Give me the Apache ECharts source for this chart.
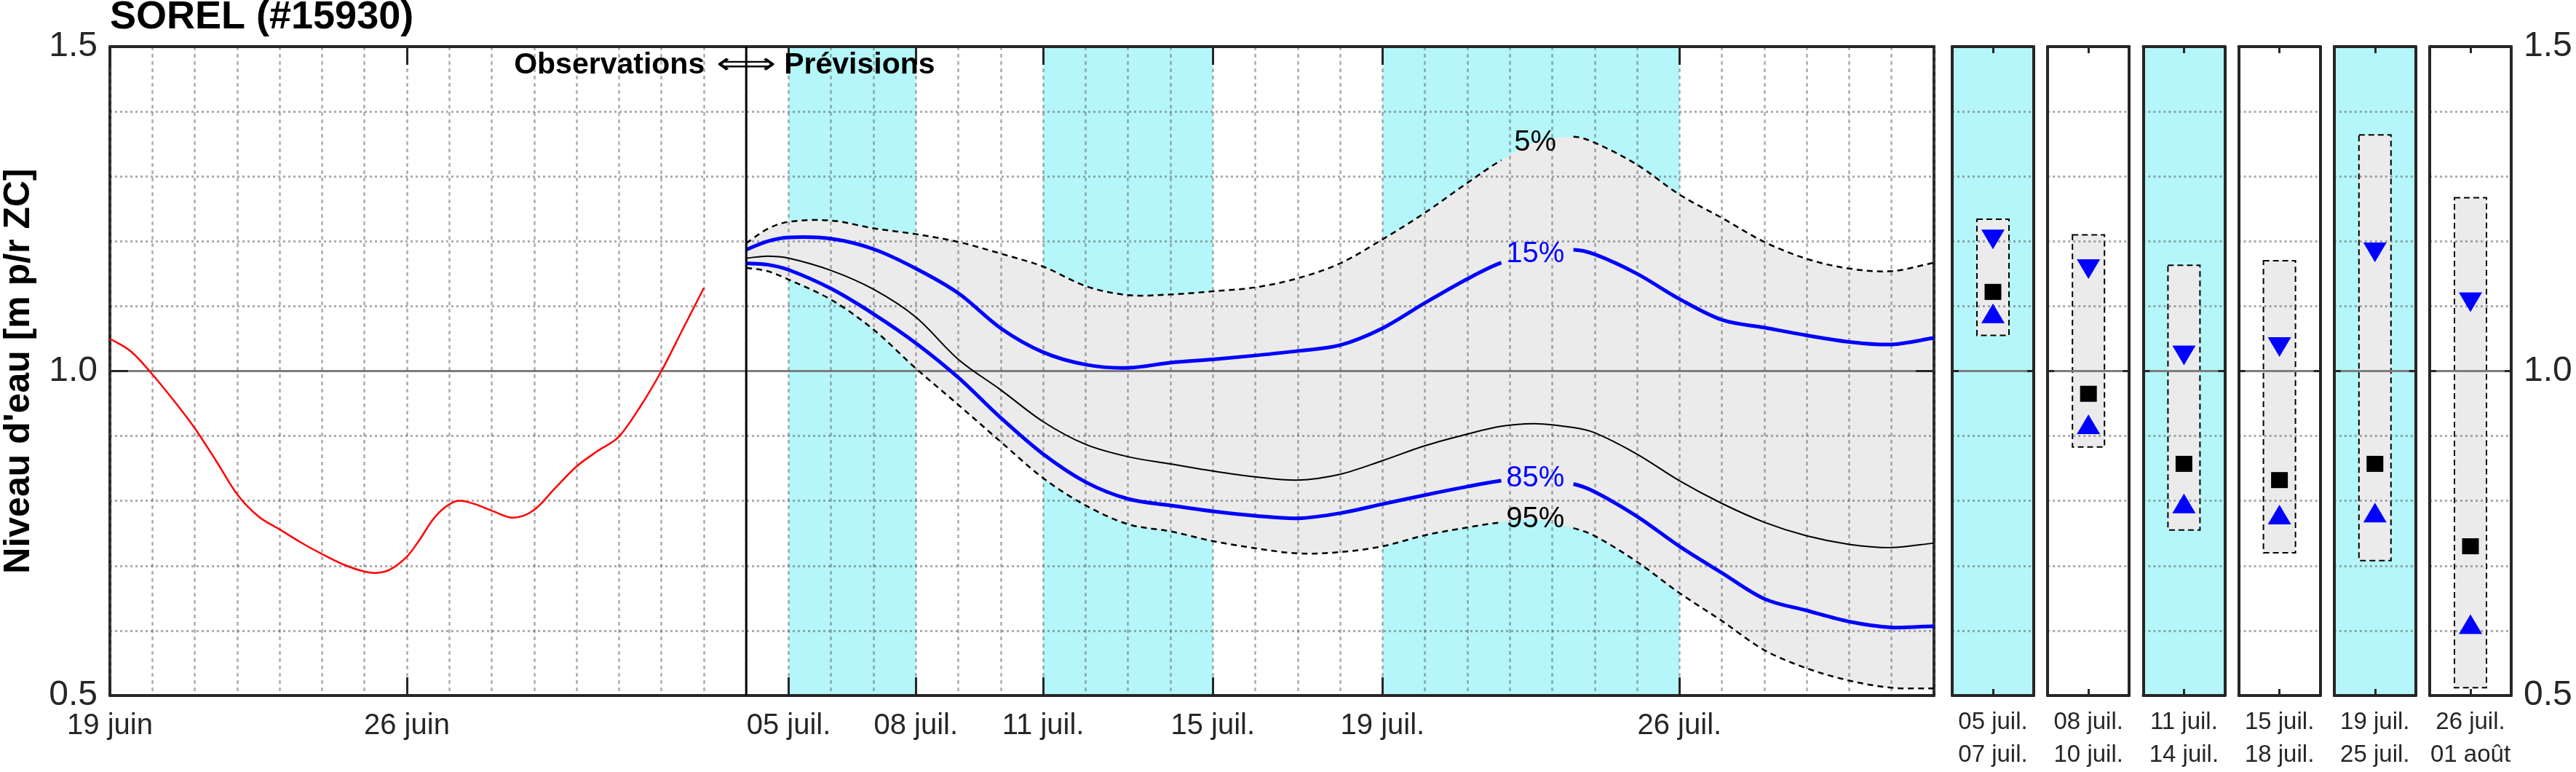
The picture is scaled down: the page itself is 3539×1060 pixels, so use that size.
<!DOCTYPE html>
<html><head><meta charset="utf-8">
<script src="https://cdn.jsdelivr.net/npm/echarts@6/dist/echarts.min.js"></script>
<style>html,body{margin:0;padding:0;background:#fff}#c{width:3539px;height:1060px}</style>
</head><body><div id="c"></div>
<script>
// ---------------- data ----------------
const chartTitle = 'SOREL (#15930)';
const yName = "Niveau d'eau [m p/r ZC]";
const yMin = 0.5, yMax = 1.5, yStep = 0.5;
const xDays = 43;                         // day 0 = 19 juin, day 43 = 01 août
const tickDays = [0, 7, 16, 19, 22, 26, 30, 37];
const tickLabels = ['19 juin', '26 juin', '05 juil.', '08 juil.', '11 juil.', '15 juil.', '19 juil.', '26 juil.'];
const forecastStartDay = 15;              // 04 juil.
const shadeStart = [16, 22, 30];
const shadeEnd = [19, 26, 37];

const obsDays = [0, 0.5, 1, 1.5, 2, 2.5, 3, 3.5, 4, 4.5, 5, 5.5, 6, 6.3, 6.6, 7, 7.3, 7.6, 7.9, 8.2, 8.6, 9, 9.5, 10, 10.5, 11, 11.5, 12, 12.5, 13, 13.5, 14];
const obsLevel = [1.05, 1.03, 0.995, 0.955, 0.912, 0.862, 0.81, 0.776, 0.756, 0.736, 0.718, 0.702, 0.691, 0.689, 0.694, 0.714, 0.74, 0.77, 0.79, 0.80, 0.795, 0.785, 0.774, 0.786, 0.82, 0.853, 0.877, 0.899, 0.945, 1.0, 1.064, 1.128];

const fcDays = [15, 15.5, 16, 17, 18, 19, 20, 21, 22, 23, 24, 25, 26, 27, 28, 29, 30, 31, 32, 32.8, 33.6, 34.5, 35, 36, 37, 38, 39, 40, 41, 42, 43];
const p5 = [1.197, 1.219, 1.230, 1.232, 1.220, 1.211, 1.199, 1.181, 1.161, 1.131, 1.117, 1.118, 1.123, 1.129, 1.143, 1.166, 1.203, 1.244, 1.290, 1.325, 1.352, 1.361, 1.352, 1.318, 1.272, 1.236, 1.199, 1.173, 1.158, 1.154, 1.167];
const p15 = [1.187, 1.200, 1.206, 1.204, 1.188, 1.158, 1.120, 1.066, 1.029, 1.010, 1.005, 1.013, 1.018, 1.024, 1.031, 1.040, 1.066, 1.105, 1.142, 1.167, 1.180, 1.187, 1.180, 1.150, 1.111, 1.079, 1.067, 1.055, 1.045, 1.041, 1.051];
const p50 = [1.174, 1.177, 1.174, 1.155, 1.126, 1.083, 1.018, 0.971, 0.922, 0.887, 0.868, 0.857, 0.846, 0.837, 0.832, 0.841, 0.862, 0.885, 0.903, 0.915, 0.919, 0.913, 0.905, 0.872, 0.831, 0.796, 0.767, 0.746, 0.733, 0.728, 0.735];
const p85 = [1.166, 1.164, 1.156, 1.127, 1.088, 1.043, 0.990, 0.928, 0.872, 0.829, 0.803, 0.793, 0.784, 0.777, 0.773, 0.781, 0.795, 0.809, 0.822, 0.831, 0.835, 0.826, 0.814, 0.776, 0.730, 0.689, 0.649, 0.631, 0.614, 0.605, 0.607];
const p95 = [1.159, 1.154, 1.141, 1.110, 1.064, 1.004, 0.948, 0.891, 0.835, 0.793, 0.764, 0.753, 0.738, 0.727, 0.719, 0.721, 0.730, 0.747, 0.759, 0.767, 0.772, 0.758, 0.746, 0.706, 0.658, 0.615, 0.570, 0.542, 0.523, 0.512, 0.511];
const labelIndex = 20;                    // where the percentile labels sit on the curves

const panelLabels = ['05 juil.\n07 juil.', '08 juil.\n10 juil.', '11 juil.\n14 juil.', '15 juil.\n18 juil.', '19 juil.\n25 juil.', '26 juil.\n01 août'];
const panelShaded = [true, false, true, false, true, false];
const panelP5 = [1.234, 1.210, 1.163, 1.170, 1.364, 1.267];
const panelP15 = [1.203, 1.157, 1.024, 1.037, 1.183, 1.106];
const panelP50 = [1.122, 0.965, 0.857, 0.832, 0.857, 0.730];
const panelP85 = [1.089, 0.918, 0.796, 0.779, 0.782, 0.610];
const panelP95 = [1.055, 0.883, 0.755, 0.720, 0.708, 0.512];

// ---------------- style ----------------
const FONT = "'Liberation Sans', Arial, Helvetica, sans-serif";
const AX = '#262626';
const GRIDC = 'rgba(90,90,90,0.5)';
const CYAN = '#b4f6f9';
const BAND = '#ebebeb';
const BLUE = '#0000ff';

function f(v) { return v.toFixed(2); }
function hermite(pts, skip, firstCmd) {
  const n = pts.length, s = [];
  for (let i = 0; i < n; i++) {
    const a = pts[Math.max(0, i - 1)], b = pts[Math.min(n - 1, i + 1)];
    s.push((b[1] - a[1]) / (b[0] - a[0]));
  }
  let d = '', pen = false;
  for (let i = 0; i < n - 1; i++) {
    if (skip && skip(i)) { pen = false; continue; }
    const p = pts[i], q = pts[i + 1], h = (q[0] - p[0]) / 3;
    if (!pen) { d += ((d === '' && firstCmd) ? firstCmd : 'M') + f(p[0]) + ' ' + f(p[1]) + ' '; pen = true; }
    d += 'C' + f(p[0] + h) + ' ' + f(p[1] + s[i] * h) + ' ' + f(q[0] - h) + ' ' + f(q[1] - s[i + 1] * h) + ' ' + f(q[0]) + ' ' + f(q[1]) + ' ';
  }
  return d;
}
const gapSkip = i => (i === labelIndex - 1 || i === labelIndex);

function curveSeries(xs, ys, stroke, width, dash, skip, label) {
  return {
    type: 'custom', coordinateSystem: 'cartesian2d', xAxisIndex: 0, yAxisIndex: 0,
    z: 5, silent: true, clip: false, data: [[xs[0], ys[0]]],
    renderItem: (params, api) => {
      const pts = xs.map((x, i) => api.coord([x, ys[i]]));
      const children = [{
        type: 'path', shape: { pathData: hermite(pts, skip) },
        style: { fill: 'none', stroke: stroke, lineWidth: width, lineDash: dash || null }
      }];
      if (label) {
        const c = api.coord([xs[labelIndex], ys[labelIndex]]);
        children.push({ type: 'text', x: c[0], y: c[1],
          style: { text: label, fill: stroke, fontSize: 40, fontFamily: FONT, align: 'center', verticalAlign: 'middle' } });
      }
      return { type: 'group', children };
    }
  };
}

// ---------------- layout ----------------
const grids = [{ left: 151, top: 64, width: 2506, height: 891, show: false, containLabel: false, outerBoundsMode: 'none' }];
for (let p = 0; p < 6; p++) {
  grids.push({ left: 2682 + p * 131.2, top: 64, width: 112, height: 891, show: true,
    backgroundColor: panelShaded[p] ? CYAN : '#ffffff', borderWidth: 0, containLabel: false, outerBoundsMode: 'none' });
}

const lineAx = { show: true, onZero: false, lineStyle: { color: AX, width: 4 } };
const xAxes = [
  { gridIndex: 0, type: 'value', min: 0, max: xDays, interval: 1, position: 'bottom', z: 3,
    axisLine: lineAx,
    axisTick: { show: true, inside: true, length: 25, customValues: tickDays, lineStyle: { color: AX, width: 3 } },
    axisLabel: { show: true, customValues: tickDays, margin: 22, fontSize: 40, color: AX, fontFamily: FONT,
      formatter: v => { const i = tickDays.indexOf(v); return i < 0 ? '' : tickLabels[i]; } },
    splitLine: { show: false } },
  { gridIndex: 0, type: 'value', min: 0, max: xDays, interval: 1, position: 'top', z: 3,
    axisLine: lineAx,
    axisTick: { show: true, inside: true, length: 25, customValues: tickDays, lineStyle: { color: AX, width: 3 } },
    axisLabel: { show: false }, splitLine: { show: false } }
];
const yAxes = [
  { gridIndex: 0, type: 'value', min: yMin, max: yMax, interval: yStep, position: 'left', z: 2,
    name: yName, nameLocation: 'middle', nameGap: 100, nameRotate: 90,
    nameTextStyle: { fontSize: 50, fontWeight: 'bold', color: '#000', fontFamily: FONT },
    axisLine: lineAx,
    axisTick: { show: true, inside: true, length: 25, lineStyle: { color: AX, width: 3 } },
    axisLabel: { show: true, margin: 17, fontSize: 48, color: AX, fontFamily: FONT, formatter: v => v.toFixed(1) },
    splitLine: { show: true, lineStyle: { color: '#7d7d7d', width: 3 } },
    minorTick: { show: false, splitNumber: 5 },
    minorSplitLine: { show: true, lineStyle: { color: GRIDC, width: 3, type: [3, 4] } } },
  { gridIndex: 0, type: 'value', min: yMin, max: yMax, interval: yStep, position: 'right', z: 2,
    axisLine: lineAx,
    axisTick: { show: true, inside: true, length: 25, lineStyle: { color: AX, width: 3 } },
    axisLabel: { show: false }, splitLine: { show: false } }
];
for (let p = 0; p < 6; p++) {
  const g = p + 1;
  const tick = { show: true, inside: true, length: 9, alignWithLabel: true, lineStyle: { color: AX, width: 3 } };
  xAxes.push({ gridIndex: g, type: 'category', data: [panelLabels[p]], position: 'bottom', z: 3,
    axisLine: lineAx, axisTick: tick,
    axisLabel: { show: true, margin: 14, fontSize: 33, lineHeight: 45, color: AX, fontFamily: FONT, interval: 0 },
    splitLine: { show: false } });
  xAxes.push({ gridIndex: g, type: 'category', data: [panelLabels[p]], position: 'top', z: 3,
    axisLine: lineAx, axisTick: tick, axisLabel: { show: false }, splitLine: { show: false } });
  const ytick = { show: true, inside: true, length: 9, lineStyle: { color: AX, width: 3 } };
  yAxes.push({ gridIndex: g, type: 'value', min: yMin, max: yMax, interval: yStep, position: 'left', z: 2,
    axisLine: lineAx, axisTick: ytick, axisLabel: { show: false },
    splitLine: { show: true, lineStyle: { color: '#7d7d7d', width: 3 } },
    minorTick: { show: false, splitNumber: 5 },
    minorSplitLine: { show: true, lineStyle: { color: GRIDC, width: 3, type: [3, 4] } } });
  yAxes.push({ gridIndex: g, type: 'value', min: yMin, max: yMax, interval: yStep, position: 'right', z: 2,
    axisLine: lineAx, axisTick: ytick,
    axisLabel: { show: p === 5, margin: 17, fontSize: 48, color: AX, fontFamily: FONT, formatter: v => v.toFixed(1) },
    splitLine: { show: false } });
}
// daily vertical grid lines on the main plot (hidden axis, only its split lines)
xAxes.push({ gridIndex: 0, type: 'value', min: 0, max: xDays, interval: 1, position: 'bottom', z: 2.5,
  axisLine: { show: false }, axisTick: { show: false }, axisLabel: { show: false },
  splitLine: { show: true, lineStyle: { color: GRIDC, width: 2.5, type: [5, 5] } } });

// ---------------- series ----------------
const series = [];
series.push({
  type: 'custom', coordinateSystem: 'cartesian2d', xAxisIndex: 0, yAxisIndex: 0, z: 1, silent: true,
  data: shadeStart.map((s, i) => [s, shadeEnd[i]]),
  encode: { x: [0, 1] },
  renderItem: (params, api) => {
    const a = api.coord([api.value(0), yMax]), b = api.coord([api.value(1), yMin]);
    return { type: 'rect', shape: { x: a[0], y: a[1], width: b[0] - a[0], height: b[1] - a[1] }, style: { fill: CYAN } };
  }
});
series.push({
  type: 'custom', coordinateSystem: 'cartesian2d', xAxisIndex: 0, yAxisIndex: 0, z: 1.5, silent: true,
  data: [[fcDays[0], p5[0]]],
  renderItem: (params, api) => {
    const up = fcDays.map((x, i) => api.coord([x, p5[i]]));
    const lo = fcDays.map((x, i) => api.coord([x, p95[i]])).reverse();
    const d = hermite(up) + hermite(lo, null, 'L') + 'Z';
    return { type: 'path', shape: { pathData: d }, style: { fill: BAND, stroke: null } };
  }
});
series.push(curveSeries(obsDays, obsLevel, '#ff0000', 2.5, null, null, null));
series.push(curveSeries(fcDays, p50, '#000000', 2, null, null, null));
series.push(curveSeries(fcDays, p15, BLUE, 5, null, gapSkip, '15%'));
series.push(curveSeries(fcDays, p85, BLUE, 5, null, gapSkip, '85%'));
series.push(curveSeries(fcDays, p5, '#000000', 2.5, [8, 6], gapSkip, '5%'));
series.push(curveSeries(fcDays, p95, '#000000', 2.5, [8, 6], gapSkip, '95%'));
series.push({
  type: 'custom', coordinateSystem: 'cartesian2d', xAxisIndex: 0, yAxisIndex: 0, z: 6, silent: true,
  data: [[forecastStartDay, yMax]],
  renderItem: (params, api) => {
    const a = api.coord([forecastStartDay, yMax]), b = api.coord([forecastStartDay, yMin]);
    const ty = a[1] + 26;
    return { type: 'group', children: [
      { type: 'line', shape: { x1: a[0], y1: a[1], x2: b[0], y2: b[1] }, style: { stroke: '#000', lineWidth: 3 } },
      { type: 'text', x: a[0] - 57, y: ty, style: { text: 'Observations', fill: '#000', fontSize: 41, fontWeight: 'bold', fontFamily: FONT, align: 'right', verticalAlign: 'middle' } },
      { type: 'text', x: a[0], y: ty, scaleX: 1.4, style: { text: '\u27FA', fill: '#000', fontSize: 41, fontFamily: "'DejaVu Sans', sans-serif", align: 'center', verticalAlign: 'middle' } },
      { type: 'text', x: a[0] + 52, y: ty, style: { text: 'Prévisions', fill: '#000', fontSize: 41, fontWeight: 'bold', fontFamily: FONT, align: 'left', verticalAlign: 'middle' } }
    ] };
  }
});
for (let p = 0; p < 6; p++) {
  const xi = 2 + 2 * p, yi = 2 + 2 * p;
  series.push({
    type: 'custom', coordinateSystem: 'cartesian2d', xAxisIndex: xi, yAxisIndex: yi, z: 1.5, silent: true,
    data: [[0, panelP95[p], panelP5[p]]],
    renderItem: (params, api) => {
      const lo = api.coord([api.value(0), api.value(1)]), hi = api.coord([api.value(0), api.value(2)]);
      return { type: 'rect', shape: { x: lo[0] - 22, y: hi[1], width: 44, height: lo[1] - hi[1] },
        style: { fill: BAND, stroke: '#000', lineWidth: 2, lineDash: [8, 5] } };
    }
  });
  series.push({ type: 'scatter', xAxisIndex: xi, yAxisIndex: yi, z: 5, silent: true,
    symbol: 'triangle', symbolRotate: 180, symbolSize: [32, 27], itemStyle: { color: BLUE, opacity: 1 },
    data: [[0, panelP15[p]]] });
  series.push({ type: 'scatter', xAxisIndex: xi, yAxisIndex: yi, z: 5, silent: true,
    symbol: 'rect', symbolSize: [23, 22], itemStyle: { color: '#000', opacity: 1 },
    data: [[0, panelP50[p]]] });
  series.push({ type: 'scatter', xAxisIndex: xi, yAxisIndex: yi, z: 5, silent: true,
    symbol: 'triangle', symbolSize: [32, 27], itemStyle: { color: BLUE, opacity: 1 },
    data: [[0, panelP85[p]]] });
}

const chart = echarts.init(document.getElementById('c'), null, { renderer: 'canvas', width: 3539, height: 1060 });
chart.setOption({
  animation: false,
  backgroundColor: '#ffffff',
  title: { text: chartTitle, left: 151, top: -3, padding: 0,
    textStyle: { fontSize: 54, fontWeight: 'bold', color: '#000', fontFamily: FONT } },
  grid: grids,
  xAxis: xAxes,
  yAxis: yAxes,
  series: series
});
</script></body></html>
